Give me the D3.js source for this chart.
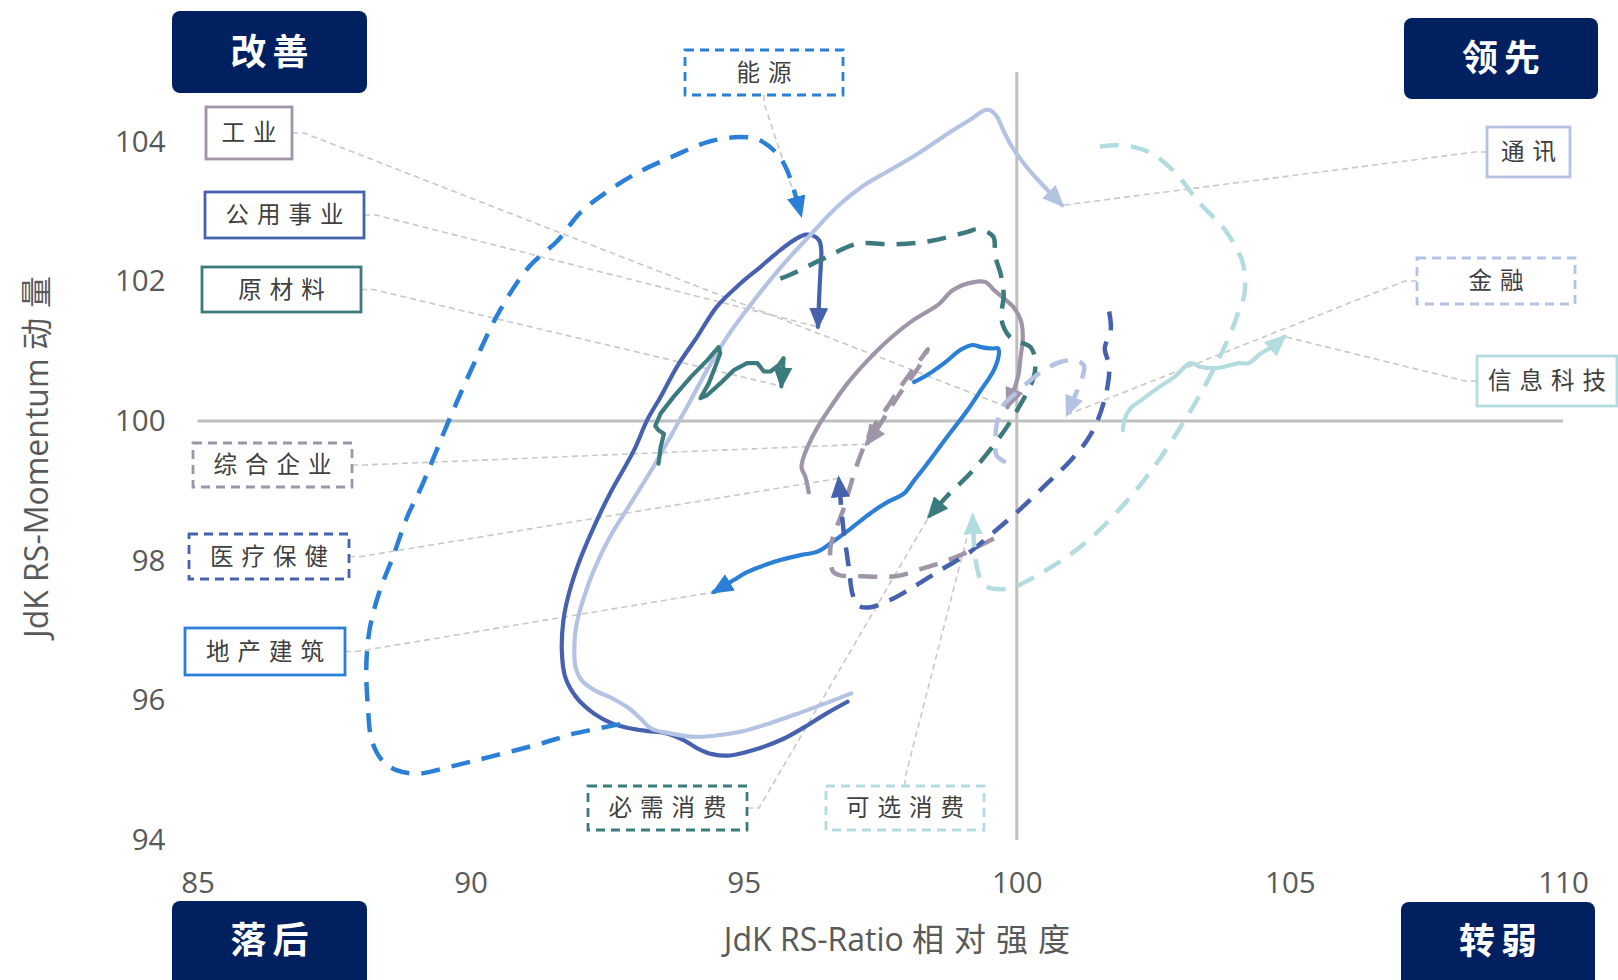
<!DOCTYPE html>
<html><head><meta charset="utf-8">
<script src="https://cdn.jsdelivr.net/npm/d3@7"></script>
<style>
html,body{margin:0;padding:0;background:#fff;}
svg{display:block;}
</style></head><body>
<svg id="chart" width="1618" height="980"></svg>
<script>
// ---------- data ----------
const xTicks = [85, 90, 95, 100, 105, 110];
const yTicks = [94, 96, 98, 100, 102, 104];
const quadrants = ["改善", "领先", "落后", "转弱"];
const xTitle = "JdK RS-Ratio ", xTitleCn = "相对强度";
const yTitle = "JdK RS-Momentum ", yTitleCn = "动量";

const energy = [[92.74,95.66],[91.93,95.53],[91.28,95.38],[90.35,95.19],[89.63,95.05],[89.04,94.95],[88.64,95.00],[88.38,95.14],[88.19,95.43],[88.12,95.91],[88.09,96.48],[88.15,97.01],[88.32,97.53],[88.58,98.06],[88.84,98.63],[89.10,99.06],[89.63,100.06],[90.09,100.87],[90.54,101.59],[91.07,102.21],[91.60,102.59],[92.00,102.98],[92.45,103.26],[93.04,103.55],[93.70,103.79],[94.35,104.00],[94.94,104.07],[95.27,104.03],[95.60,103.84],[95.79,103.60],[96.05,102.95]];
const utilities = [[96.90,95.98],[96.51,95.81],[96.12,95.62],[95.73,95.45],[95.27,95.31],[94.75,95.21],[94.42,95.23],[94.16,95.31],[93.90,95.43],[93.57,95.53],[93.24,95.56],[92.91,95.60],[92.59,95.67],[92.26,95.81],[91.93,96.05],[91.73,96.34],[91.67,96.72],[91.70,97.15],[91.80,97.53],[92.00,98.01],[92.26,98.49],[92.55,98.96],[92.99,99.58],[93.23,100.01],[93.48,100.35],[93.78,100.78],[94.15,101.21],[94.51,101.64],[94.94,101.97],[95.31,102.21],[95.67,102.45],[95.98,102.62],[96.13,102.67],[96.26,102.66],[96.38,102.59],[96.42,102.45],[96.41,102.21],[96.39,101.92],[96.36,101.35]];
const telecom = [[96.97,96.10],[96.51,95.96],[95.99,95.81],[95.47,95.67],[94.94,95.55],[94.42,95.49],[94.03,95.48],[93.63,95.53],[93.30,95.60],[93.11,95.74],[92.91,95.88],[92.59,96.03],[92.26,96.15],[92.03,96.29],[91.92,96.48],[91.90,96.77],[91.93,97.05],[92.06,97.44],[92.26,97.87],[92.55,98.34],[92.93,98.82],[93.35,99.35],[93.66,99.78],[93.96,100.20],[94.33,100.73],[94.70,101.21],[95.19,101.73],[95.71,102.23],[96.25,102.69],[96.71,103.07],[97.17,103.36],[97.69,103.60],[98.21,103.84],[98.74,104.12],[99.13,104.31],[99.46,104.46],[99.62,104.38],[99.75,104.17],[99.91,103.93],[100.18,103.64],[100.44,103.41],[100.83,103.09]];
const materials = [[93.44,99.39],[93.48,99.63],[93.54,99.82],[93.44,99.87],[93.38,99.93],[93.48,100.11],[93.72,100.35],[94.03,100.63],[94.33,100.87],[94.54,101.06],[94.57,100.97],[94.48,100.78],[94.36,100.54],[94.21,100.33],[94.33,100.37],[94.57,100.54],[94.82,100.73],[95.06,100.83],[95.25,100.83],[95.37,100.71],[95.49,100.71],[95.64,100.80],[95.73,100.90],[95.69,100.50]];
const industrials = [[96.19,98.98],[96.13,99.20],[96.06,99.33],[96.08,99.44],[96.17,99.63],[96.35,99.91],[96.59,100.20],[96.90,100.54],[97.27,100.87],[97.69,101.19],[98.11,101.45],[98.55,101.66],[98.84,101.88],[99.21,101.99],[99.43,101.99],[99.58,101.88],[99.76,101.76],[99.94,101.63],[100.07,101.45],[100.11,101.20],[100.07,100.92],[100.02,100.63],[99.83,100.20]];
const conglomerates = [[99.58,98.32],[99.28,98.20],[98.97,98.08],[98.61,97.97],[98.24,97.88],[97.81,97.78],[97.45,97.77],[97.08,97.78],[96.77,97.79],[96.64,97.84],[96.59,98.01],[96.59,98.20],[96.68,98.44],[96.81,98.70],[96.93,99.01],[97.05,99.32],[97.20,99.63],[97.38,99.92],[97.63,100.20],[97.87,100.49],[98.12,100.76],[98.30,100.95],[98.37,101.03],[98.21,100.78],[97.97,100.52],[97.72,100.23],[97.51,99.97],[97.25,99.67]];
const healthcare = [[101.69,101.57],[101.72,101.30],[101.61,101.04],[101.69,100.80],[101.66,100.49],[101.48,100.01],[101.29,99.73],[100.99,99.44],[100.56,99.11],[100.01,98.70],[99.52,98.37],[99.10,98.10],[98.61,97.87],[98.12,97.63],[97.69,97.44],[97.29,97.33],[97.09,97.36],[96.99,97.53],[96.93,97.87],[96.87,98.20],[96.82,98.49],[96.74,99.18]];
const realEstate = [[98.12,100.56],[98.36,100.66],[98.67,100.83],[98.97,101.02],[99.19,101.09],[99.34,101.06],[99.55,101.04],[99.66,101.04],[99.67,100.95],[99.58,100.73],[99.34,100.44],[99.10,100.16],[98.73,99.78],[98.36,99.39],[98.12,99.15],[97.93,98.96],[97.63,98.84],[97.32,98.68],[96.96,98.46],[96.59,98.25],[96.35,98.13],[96.04,98.08],[95.67,98.01],[95.47,97.96],[95.07,97.84],[94.81,97.72],[94.45,97.55]];
const staples = [[95.67,102.04],[95.86,102.10],[96.47,102.33],[97.08,102.54],[97.75,102.53],[98.42,102.58],[99.10,102.71],[99.29,102.75],[99.57,102.64],[99.60,102.38],[99.71,102.09],[99.76,101.81],[99.72,101.45],[99.89,101.19],[100.26,101.05],[100.33,100.70],[100.01,100.16],[99.65,99.73],[99.17,99.27],[98.73,98.93],[98.39,98.63]];
const financials = [[99.80,99.41],[99.63,99.51],[99.61,99.73],[99.63,99.94],[99.76,100.23],[99.98,100.40],[100.44,100.70],[100.81,100.85],[101.08,100.87],[101.23,100.79],[101.17,100.56],[101.03,100.30],[100.92,100.09]];
const infoTech = [[101.94,99.87],[101.98,100.04],[102.09,100.19],[102.28,100.30],[102.61,100.49],[102.88,100.63],[103.18,100.83],[103.35,100.78],[103.68,100.76],[104.07,100.83],[104.24,100.83],[104.47,100.97],[104.67,101.06],[104.90,101.21]];
const discretionary = [[101.52,103.93],[101.85,103.95],[102.22,103.91],[102.52,103.81],[102.91,103.55],[103.35,103.12],[103.81,102.74],[104.14,102.26],[104.17,101.83],[104.07,101.59],[103.86,101.16],[103.37,100.40],[103.00,99.92],[102.52,99.35],[102.03,98.87],[101.54,98.46],[101.05,98.13],[100.44,97.82],[99.83,97.60],[99.40,97.65],[99.28,97.87],[99.22,98.22],[99.19,98.65]];

// ---------- styles / layout ----------
const C = {blue:"#2B7FD6", navy:"#4662AF", lav:"#B4C3E4", teal:"#3C7B7D", purp:"#A094A8", lteal:"#B3DCE0"};
const series = [
  {name:"公用事业", data:utilities, color:C.navy, dash:false},
  {name:"通讯", data:telecom, color:C.lav, dash:false},
  {name:"原材料", data:materials, color:C.teal, dash:false, linear:true},
  {name:"工业", data:industrials, color:C.purp, dash:false},
  {name:"地产建筑", data:realEstate, color:C.blue, dash:false},
  {name:"信息科技", data:infoTech, color:C.lteal, dash:false},
  {name:"能源", data:energy, color:C.blue, dash:true},
  {name:"综合企业", data:conglomerates, color:C.purp, dash:true},
  {name:"医疗保健", data:healthcare, color:C.navy, dash:true},
  {name:"必需消费", data:staples, color:C.teal, dash:true},
  {name:"金融", data:financials, color:C.lav, dash:true},
  {name:"可选消费", data:discretionary, color:C.lteal, dash:true}
];
// label boxes: [x, y, w, h], leader start side
const labelLayout = {
  "工业":[206,107,86,52,"r"], "公用事业":[205,192,159,46,"r"], "原材料":[202,267,159,45,"r"],
  "综合企业":[193,443,159,44,"r"], "医疗保健":[189,534,160,45,"r"], "地产建筑":[185,628,160,47,"r"],
  "能源":[685,50,158,45,"b"], "通讯":[1487,127,83,50,"l"], "金融":[1417,258,158,46,"l"],
  "信息科技":[1477,356,140,50,"l"], "必需消费":[588,786,159,44,"r"], "可选消费":[826,786,158,44,"t"]
};
const quadLayout = [[172,11,195,82],[1404,18,194,81],[172,901,195,90],[1401,902,194,90]];

const svg = d3.select("#chart");
const x = d3.scaleLinear().domain([85,110]).range([197.5,1563]);
const y = d3.scaleLinear().domain([94,105]).range([840,72]);

// axes
const gx = svg.append("g").attr("transform","translate(0,840)")
  .call(d3.axisBottom(x).tickValues(xTicks).tickSize(0).tickPadding(32));
const gy = svg.append("g").attr("transform","translate(197.5,0)")
  .call(d3.axisLeft(y).tickValues(yTicks).tickSize(0).tickPadding(32));
[gx,gy].forEach(g=>{
  g.select(".domain").remove();
  g.selectAll("text").attr("font-family","'Open Sans',sans-serif").attr("font-size",29.5).attr("fill","#595959");
});

// centre lines
svg.append("line").attr("x1",x(85)).attr("x2",x(110)).attr("y1",y(100)).attr("y2",y(100))
  .attr("stroke","#BFBFBF").attr("stroke-width",3);
svg.append("line").attr("x1",x(100)).attr("x2",x(100)).attr("y1",y(94)).attr("y2",y(105))
  .attr("stroke","#BFBFBF").attr("stroke-width",3);

// axis titles
const xt = svg.append("text").attr("x",902).attr("y",951).attr("text-anchor","middle")
  .attr("font-family","'Open Sans','Noto Sans CJK SC',sans-serif").attr("font-size",32).attr("fill","#595959");
xt.append("tspan").text(xTitle);
xt.append("tspan").attr("font-family","'Noto Sans CJK SC'").attr("letter-spacing",10).text(xTitleCn);
const yt = svg.append("text").attr("transform","translate(48,452) rotate(-90)").attr("text-anchor","middle")
  .attr("font-family","'Open Sans','Noto Sans CJK SC',sans-serif").attr("font-size",32).attr("fill","#595959");
yt.append("tspan").text(yTitle);
yt.append("tspan").attr("font-family","'Noto Sans CJK SC'").attr("letter-spacing",10).text(yTitleCn);

// markers
const defs = svg.append("defs");
series.forEach((s,i)=>{
  defs.append("marker").attr("id","m"+i).attr("viewBox","0 -11 22 22")
    .attr("refX",19).attr("refY",0).attr("markerWidth",22).attr("markerHeight",22)
    .attr("markerUnits","userSpaceOnUse").attr("orient","auto")
    .append("path").attr("d","M0,-9.5L22,0L0,9.5Z").attr("fill",s.color);
});

// leader lines
const leader = d3.line();
series.forEach(s=>{
  const L = labelLayout[s.name];
  const [bx,by,bw,bh,side] = L;
  let p0, p1;
  if (side==="r"){ p0=[bx+bw,by+bh/2]; p1=[bx+bw+12,by+bh/2]; }
  else if (side==="l"){ p0=[bx,by+bh/2]; p1=[bx-12,by+bh/2]; }
  else if (side==="b"){ p0=[bx+bw/2,by+bh]; p1=[bx+bw/2,by+bh+8]; }
  else { p0=[bx+bw/2,by]; p1=[bx+bw/2,by-8]; }
  const last = s.data[s.data.length-1];
  svg.append("path").attr("d",leader([p0,p1,[x(last[0]),y(last[1])]]))
    .attr("fill","none").attr("stroke","#C8C8C8").attr("stroke-width",1.6).attr("stroke-dasharray","6 4");
});

// series tails
series.forEach((s,i)=>{
  const line = d3.line().x(d=>x(d[0])).y(d=>y(d[1]))
    .curve(s.linear ? d3.curveLinear : d3.curveCatmullRom.alpha(0.5));
  svg.append("path").attr("d",line(s.data)).attr("fill","none")
    .attr("stroke",s.color).attr("stroke-width",s.dash?4.5:4.2)
    .attr("stroke-linejoin","round").attr("stroke-linecap", s.dash?"butt":"round")
    .attr("stroke-dasharray", s.dash ? "19 12" : null)
    .attr("marker-end","url(#m"+i+")");
});

// label boxes
series.forEach(s=>{
  const [bx,by,bw,bh] = labelLayout[s.name];
  svg.append("rect").attr("x",bx).attr("y",by).attr("width",bw).attr("height",bh)
    .attr("fill","#fff").attr("stroke",s.color).attr("stroke-width",2.8)
    .attr("stroke-dasharray", s.dash ? "9 6" : null);
  svg.append("text").attr("x",bx+bw/2+4).attr("y",by+bh/2).attr("dy","0.36em")
    .attr("text-anchor","middle").attr("font-family","'Noto Sans CJK SC',sans-serif")
    .attr("font-size",23.5).attr("letter-spacing",8).attr("fill","#404040").text(s.name);
});

// quadrant boxes
quadrants.forEach((q,i)=>{
  const [qx,qy,qw,qh] = quadLayout[i];
  svg.append("rect").attr("x",qx).attr("y",qy).attr("width",qw).attr("height",qh)
    .attr("rx",8).attr("fill","#002060");
  const cy = i<2 ? qy+qh/2 : qy+39;
  svg.append("text").attr("x",qx+qw/2+3).attr("y",cy).attr("dy","0.36em")
    .attr("text-anchor","middle").attr("font-family","'Noto Sans CJK SC',sans-serif")
    .attr("font-weight","bold").attr("font-size",36).attr("letter-spacing",6)
    .attr("fill","#fff").text(q);
});
</script>
</body></html>
